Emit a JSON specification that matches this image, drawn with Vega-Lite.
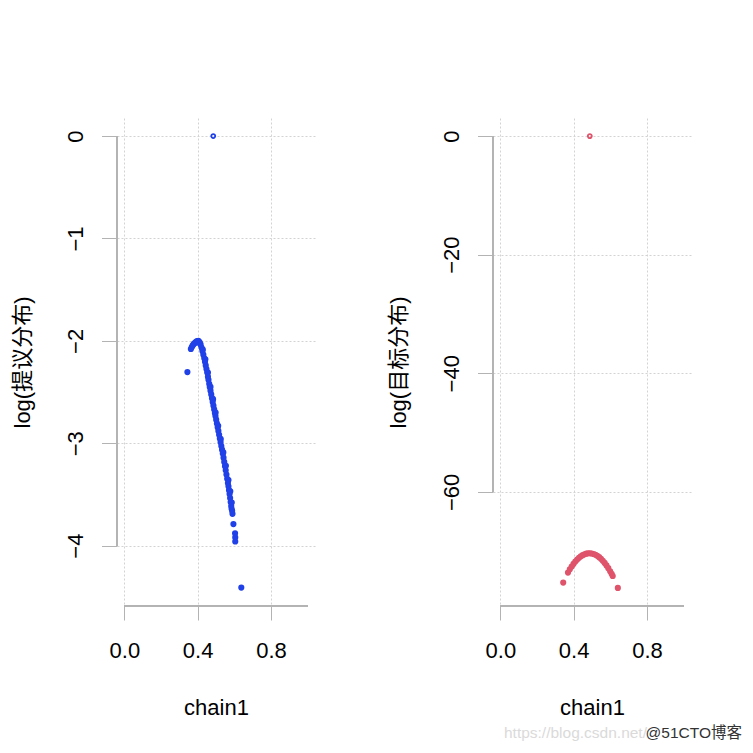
{
  "$schema": "https://vega.github.io/schema/vega-lite/v6.json",
  "padding": {"left": 11, "top": 118, "right": 5, "bottom": 5},
  "bounds": "flush",
  "spacing": 178,
  "config": {
    "view": {"stroke": null},
    "font": "Liberation Sans, Noto Sans CJK SC",
    "title": {"orient": "bottom", "anchor": "end", "fontSize": 15.5, "fontWeight": "normal", "offset": 8, "baseline": "top"},
    "axis": {
      "domain": false,
      "tickColor": "#B3B3B3",
      "labelColor": "#000000",
      "labelFontSize": 22,
      "titleFontSize": 22,
      "titleFontWeight": "normal",
      "titleColor": "#000000",
      "grid": true,
      "gridColor": "#D3D3D3",
      "gridDash": [2, 2],
      "labelOverlap": false,
      "labelFlush": false
    }
  },
  "datasets": {
    "proposal": [
      {"chain1": 0.485, "value": 0, "start": true},
      {"chain1": 0.344, "value": -2.305, "start": false},
      {"chain1": 0.363, "value": -2.08, "start": false},
      {"chain1": 0.368, "value": -2.06, "start": false},
      {"chain1": 0.373, "value": -2.045, "start": false},
      {"chain1": 0.379, "value": -2.03, "start": false},
      {"chain1": 0.385, "value": -2.02, "start": false},
      {"chain1": 0.391, "value": -2.01, "start": false},
      {"chain1": 0.397, "value": -2.003, "start": false},
      {"chain1": 0.404, "value": -2.0, "start": false},
      {"chain1": 0.41, "value": -2.012, "start": false},
      {"chain1": 0.416, "value": -2.035, "start": false},
      {"chain1": 0.421, "value": -2.065, "start": false},
      {"chain1": 0.426, "value": -2.1, "start": false},
      {"chain1": 0.431, "value": -2.135, "start": false},
      {"chain1": 0.436, "value": -2.17, "start": false},
      {"chain1": 0.44, "value": -2.205, "start": false},
      {"chain1": 0.444, "value": -2.24, "start": false},
      {"chain1": 0.448, "value": -2.275, "start": false},
      {"chain1": 0.452, "value": -2.31, "start": false},
      {"chain1": 0.456, "value": -2.35, "start": false},
      {"chain1": 0.459, "value": -2.38, "start": false},
      {"chain1": 0.463, "value": -2.42, "start": false},
      {"chain1": 0.466, "value": -2.45, "start": false},
      {"chain1": 0.47, "value": -2.487, "start": false},
      {"chain1": 0.474, "value": -2.523, "start": false},
      {"chain1": 0.478, "value": -2.56, "start": false},
      {"chain1": 0.482, "value": -2.597, "start": false},
      {"chain1": 0.486, "value": -2.633, "start": false},
      {"chain1": 0.49, "value": -2.67, "start": false},
      {"chain1": 0.494, "value": -2.706, "start": false},
      {"chain1": 0.497, "value": -2.733, "start": false},
      {"chain1": 0.501, "value": -2.77, "start": false},
      {"chain1": 0.505, "value": -2.807, "start": false},
      {"chain1": 0.509, "value": -2.843, "start": false},
      {"chain1": 0.513, "value": -2.88, "start": false},
      {"chain1": 0.517, "value": -2.917, "start": false},
      {"chain1": 0.521, "value": -2.953, "start": false},
      {"chain1": 0.525, "value": -2.99, "start": false},
      {"chain1": 0.529, "value": -3.027, "start": false},
      {"chain1": 0.533, "value": -3.063, "start": false},
      {"chain1": 0.537, "value": -3.1, "start": false},
      {"chain1": 0.541, "value": -3.141, "start": false},
      {"chain1": 0.545, "value": -3.183, "start": false},
      {"chain1": 0.549, "value": -3.224, "start": false},
      {"chain1": 0.553, "value": -3.265, "start": false},
      {"chain1": 0.557, "value": -3.306, "start": false},
      {"chain1": 0.561, "value": -3.347, "start": false},
      {"chain1": 0.565, "value": -3.389, "start": false},
      {"chain1": 0.568, "value": -3.42, "start": false},
      {"chain1": 0.571, "value": -3.459, "start": false},
      {"chain1": 0.574, "value": -3.497, "start": false},
      {"chain1": 0.577, "value": -3.536, "start": false},
      {"chain1": 0.58, "value": -3.575, "start": false},
      {"chain1": 0.583, "value": -3.614, "start": false},
      {"chain1": 0.585, "value": -3.64, "start": false},
      {"chain1": 0.412, "value": -2.025, "start": false},
      {"chain1": 0.428, "value": -2.085, "start": false},
      {"chain1": 0.442, "value": -2.18, "start": false},
      {"chain1": 0.456, "value": -2.31, "start": false},
      {"chain1": 0.47, "value": -2.45, "start": false},
      {"chain1": 0.484, "value": -2.57, "start": false},
      {"chain1": 0.498, "value": -2.7, "start": false},
      {"chain1": 0.512, "value": -2.83, "start": false},
      {"chain1": 0.526, "value": -2.96, "start": false},
      {"chain1": 0.54, "value": -3.09, "start": false},
      {"chain1": 0.554, "value": -3.22, "start": false},
      {"chain1": 0.568, "value": -3.36, "start": false},
      {"chain1": 0.578, "value": -3.47, "start": false},
      {"chain1": 0.586, "value": -3.58, "start": false},
      {"chain1": 0.588, "value": -3.66, "start": false},
      {"chain1": 0.59, "value": -3.69, "start": false},
      {"chain1": 0.595, "value": -3.79, "start": false},
      {"chain1": 0.604, "value": -3.88, "start": false},
      {"chain1": 0.605, "value": -3.92, "start": false},
      {"chain1": 0.605, "value": -3.96, "start": false},
      {"chain1": 0.638, "value": -4.41, "start": false}
    ],
    "target": [
      {"chain1": 0.488, "value": 0, "start": true},
      {"chain1": 0.343, "value": -75.3, "start": false},
      {"chain1": 0.369, "value": -73.61, "start": false},
      {"chain1": 0.379, "value": -73.07, "start": false},
      {"chain1": 0.389, "value": -72.59, "start": false},
      {"chain1": 0.399, "value": -72.15, "start": false},
      {"chain1": 0.409, "value": -71.76, "start": false},
      {"chain1": 0.419, "value": -71.42, "start": false},
      {"chain1": 0.429, "value": -71.12, "start": false},
      {"chain1": 0.439, "value": -70.88, "start": false},
      {"chain1": 0.449, "value": -70.68, "start": false},
      {"chain1": 0.459, "value": -70.52, "start": false},
      {"chain1": 0.469, "value": -70.42, "start": false},
      {"chain1": 0.479, "value": -70.36, "start": false},
      {"chain1": 0.489, "value": -70.35, "start": false},
      {"chain1": 0.499, "value": -70.39, "start": false},
      {"chain1": 0.509, "value": -70.48, "start": false},
      {"chain1": 0.519, "value": -70.61, "start": false},
      {"chain1": 0.529, "value": -70.79, "start": false},
      {"chain1": 0.539, "value": -71.02, "start": false},
      {"chain1": 0.549, "value": -71.29, "start": false},
      {"chain1": 0.559, "value": -71.62, "start": false},
      {"chain1": 0.569, "value": -71.99, "start": false},
      {"chain1": 0.579, "value": -72.41, "start": false},
      {"chain1": 0.589, "value": -72.87, "start": false},
      {"chain1": 0.599, "value": -73.39, "start": false},
      {"chain1": 0.607, "value": -73.83, "start": false},
      {"chain1": 0.613, "value": -74.19, "start": false},
      {"chain1": 0.641, "value": -76.2, "start": false}
    ]
  },
  "hconcat": [
    {
      "width": 198,
      "height": 488,
      "title": {"text": "https://blog.csdn.net/", "color": "#DADADA", "dx": 332},
      "data": {"name": "proposal"},
      "layer": [
        {
          "transform": [{"filter": "datum.start == false"}],
          "mark": {"type": "circle", "color": "#2141E8", "size": 38, "opacity": 1},
          "encoding": {
            "x": {
              "field": "chain1", "type": "quantitative",
              "scale": {"domain": [-0.04, 1.04], "nice": false, "zero": false},
              "axis": {
                "title": "chain1",
                "values": [0, 0.2, 0.4, 0.6, 0.8, 1],
                "format": ".1f",
                "labelExpr": "(datum.label == '0.0' || datum.label == '0.4' || datum.label == '0.8') ? datum.label : ''",
                "tickSize": 14,
                "labelPadding": 20,
                "labelBaseline": "top",
                "titleY": 108,
                "titleBaseline": "alphabetic"
              }
            },
            "y": {
              "field": "value", "type": "quantitative",
              "scale": {"domain": [-4.59, 0.1765], "nice": false, "zero": false},
              "axis": {
                "title": "log(提议分布)",
                "values": [-4, -3, -2, -1, 0],
                "format": "d",
                "tickSize": 15.5,
                "labelAngle": -90,
                "labelAlign": "center",
                "labelBaseline": "alphabetic",
                "labelPadding": 19.5,
                "titleAngle": -90,
                "titleX": -95,
                "titleY": 244,
                "titleAlign": "center",
                "titleBaseline": "middle"
              }
            }
          }
        },
        {
          "transform": [{"filter": "datum.start == true"}],
          "mark": {"type": "point", "shape": "circle", "color": "#2141E8", "size": 16, "strokeWidth": 1.8, "filled": false, "opacity": 1},
          "encoding": {
            "x": {"field": "chain1", "type": "quantitative"},
            "y": {"field": "value", "type": "quantitative"}
          }
        },
        {
          "mark": {"type": "rule", "color": "#B3B3B3", "strokeWidth": 1},
          "encoding": {"x": {"datum": -0.04}, "y": {"datum": -4}, "y2": {"datum": 0}}
        },
        {
          "mark": {"type": "rule", "color": "#B3B3B3", "strokeWidth": 1},
          "encoding": {"x": {"datum": 0}, "x2": {"datum": 1}, "y": {"datum": -4.59}}
        }
      ]
    },
    {
      "width": 198,
      "height": 488,
      "title": {"text": "@51CTO博客", "color": "#333333", "dx": 51},
      "data": {"name": "target"},
      "layer": [
        {
          "transform": [{"filter": "datum.start == false"}],
          "mark": {"type": "circle", "color": "#DF536B", "size": 38, "opacity": 1},
          "encoding": {
            "x": {
              "field": "chain1", "type": "quantitative",
              "scale": {"domain": [-0.04, 1.04], "nice": false, "zero": false},
              "axis": {
                "title": "chain1",
                "values": [0, 0.2, 0.4, 0.6, 0.8, 1],
                "format": ".1f",
                "labelExpr": "(datum.label == '0.0' || datum.label == '0.4' || datum.label == '0.8') ? datum.label : ''",
                "tickSize": 14,
                "labelPadding": 20,
                "labelBaseline": "top",
                "titleY": 108,
                "titleBaseline": "alphabetic"
              }
            },
            "y": {
              "field": "value", "type": "quantitative",
              "scale": {"domain": [-79.25, 3.05], "nice": false, "zero": false},
              "axis": {
                "title": "log(目标分布)",
                "values": [-60, -40, -20, 0],
                "format": "d",
                "tickSize": 15.5,
                "labelAngle": -90,
                "labelAlign": "center",
                "labelBaseline": "alphabetic",
                "labelPadding": 19.5,
                "titleAngle": -90,
                "titleX": -95,
                "titleY": 244,
                "titleAlign": "center",
                "titleBaseline": "middle"
              }
            }
          }
        },
        {
          "transform": [{"filter": "datum.start == true"}],
          "mark": {"type": "point", "shape": "circle", "color": "#DF536B", "size": 16, "strokeWidth": 1.8, "filled": false, "opacity": 1},
          "encoding": {
            "x": {"field": "chain1", "type": "quantitative"},
            "y": {"field": "value", "type": "quantitative"}
          }
        },
        {
          "mark": {"type": "rule", "color": "#B3B3B3", "strokeWidth": 1},
          "encoding": {"x": {"datum": -0.04}, "y": {"datum": -60}, "y2": {"datum": 0}}
        },
        {
          "mark": {"type": "rule", "color": "#B3B3B3", "strokeWidth": 1},
          "encoding": {"x": {"datum": 0}, "x2": {"datum": 1}, "y": {"datum": -79.25}}
        }
      ]
    }
  ]
}
